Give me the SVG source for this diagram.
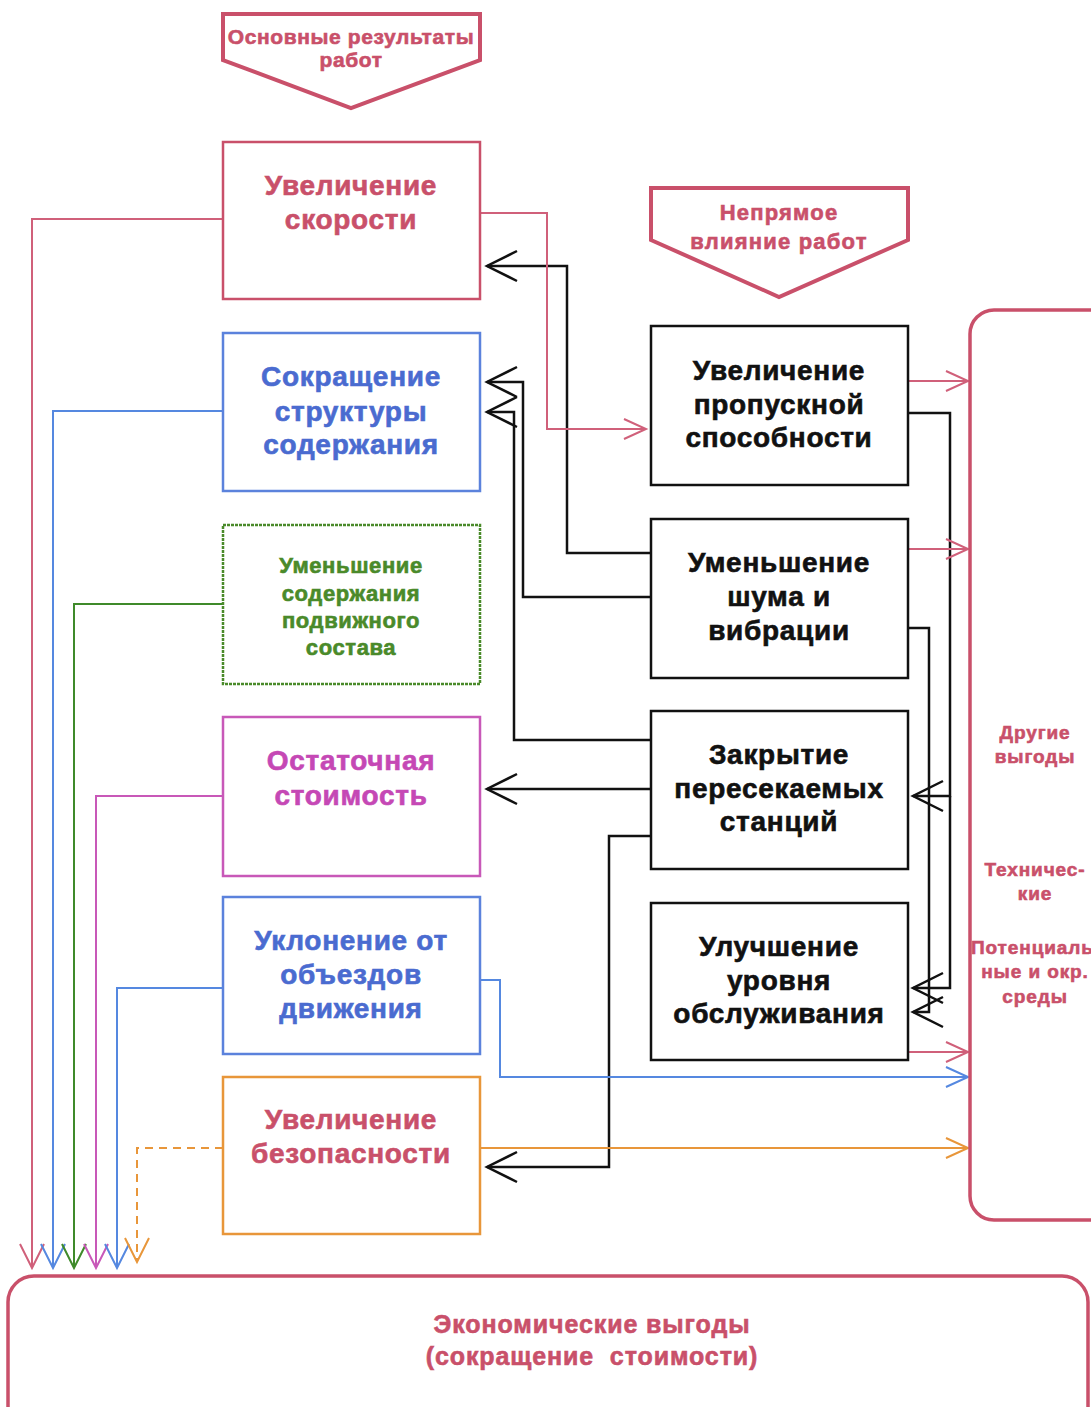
<svg xmlns="http://www.w3.org/2000/svg" width="1091" height="1407" viewBox="0 0 1091 1407">
<style>
text{font-family:"Liberation Sans",Arial,sans-serif;font-weight:bold;text-anchor:middle;stroke-width:0.6}
.box{fill:#fff;stroke-width:2.5}
.t27{font-size:28px;letter-spacing:0.7px}
.t21{font-size:22px;letter-spacing:0.6px}
.t20{font-size:21px;letter-spacing:0.6px}
.t20b{font-size:22px;letter-spacing:1.2px}
.t18{font-size:19px;letter-spacing:0.9px}
.t24{font-size:25px;letter-spacing:0.9px}
.red{fill:#c9506a;stroke:#c9506a}
.blue{fill:#4a6bd0;stroke:#4a6bd0}
.green{fill:#4a8a2a;stroke:#4a8a2a}
.mag{fill:#c548b5;stroke:#c548b5}
.blk{fill:#111;stroke:#111}
.c{fill:none}
.ck{stroke:#111;stroke-width:2.5}
.cr{stroke:#d0607a;stroke-width:2}
.cb{stroke:#5588e0;stroke-width:2}
.cg{stroke:#3f8a2a;stroke-width:2}
.cm{stroke:#c858b8;stroke-width:2}
.co{stroke:#e8963a;stroke-width:2}
</style>
<defs>
<marker id="mk" markerUnits="userSpaceOnUse" markerWidth="40" markerHeight="40" viewBox="-35 -20 40 40" refX="0" refY="0" orient="auto" overflow="visible"><path d="M-30,-15 L0,0 L-30,15" fill="none" stroke="#111" stroke-width="2.5"/></marker>
<marker id="mr" markerUnits="userSpaceOnUse" markerWidth="30" markerHeight="30" viewBox="-25 -15 30 30" refX="0" refY="0" orient="auto" overflow="visible"><path d="M-22,-10 L0,0 L-22,10" fill="none" stroke="#d0607a" stroke-width="2"/></marker>
<marker id="mb" markerUnits="userSpaceOnUse" markerWidth="30" markerHeight="30" viewBox="-25 -15 30 30" refX="0" refY="0" orient="auto" overflow="visible"><path d="M-22,-10 L0,0 L-22,10" fill="none" stroke="#5588e0" stroke-width="2"/></marker>
<marker id="mo" markerUnits="userSpaceOnUse" markerWidth="30" markerHeight="30" viewBox="-25 -15 30 30" refX="0" refY="0" orient="auto" overflow="visible"><path d="M-22,-10 L0,0 L-22,10" fill="none" stroke="#e8963a" stroke-width="2"/></marker>
<marker id="dr" markerUnits="userSpaceOnUse" markerWidth="30" markerHeight="30" viewBox="-27 -15 30 30" refX="0" refY="0" orient="auto" overflow="visible"><path d="M-24,-12 L0,0 L-24,12" fill="none" stroke="#d0607a" stroke-width="2"/></marker>
<marker id="db" markerUnits="userSpaceOnUse" markerWidth="30" markerHeight="30" viewBox="-27 -15 30 30" refX="0" refY="0" orient="auto" overflow="visible"><path d="M-24,-12 L0,0 L-24,12" fill="none" stroke="#5588e0" stroke-width="2"/></marker>
<marker id="dg" markerUnits="userSpaceOnUse" markerWidth="30" markerHeight="30" viewBox="-27 -15 30 30" refX="0" refY="0" orient="auto" overflow="visible"><path d="M-24,-12 L0,0 L-24,12" fill="none" stroke="#3f8a2a" stroke-width="2"/></marker>
<marker id="dm" markerUnits="userSpaceOnUse" markerWidth="30" markerHeight="30" viewBox="-27 -15 30 30" refX="0" refY="0" orient="auto" overflow="visible"><path d="M-24,-12 L0,0 L-24,12" fill="none" stroke="#c858b8" stroke-width="2"/></marker>
<marker id="do" markerUnits="userSpaceOnUse" markerWidth="30" markerHeight="30" viewBox="-27 -15 30 30" refX="0" refY="0" orient="auto" overflow="visible"><path d="M-24,-12 L0,0 L-24,12" fill="none" stroke="#e8963a" stroke-width="2"/></marker>
</defs>
<rect width="1091" height="1407" fill="#fff"/>

<g id="hdr-main">
<polygon points="223,14 480,14 480,60 351,108 223,60" fill="#fff" stroke="#c9506a" stroke-width="4"/>
<text class="t20 red" x="351" y="44">Основные результаты</text>
<text class="t20 red" x="351" y="67">работ</text>
</g>
<g id="hdr-indirect">
<polygon points="651,188 908,188 908,240 779,297 651,240" fill="#fff" stroke="#c9506a" stroke-width="4"/>
<text class="t20b red" x="779" y="220">Непрямое</text>
<text class="t20b red" x="779" y="249">влияние работ</text>
</g>

<g id="connectors">
<path class="c ck" d="M652,553 H567 V266 H487" marker-end="url(#mk)"/>
<path class="c ck" d="M652,597 H523 V382 H487" marker-end="url(#mk)"/>
<path class="c ck" d="M652,740 H514 V412 H487" marker-end="url(#mk)"/>
<path class="c ck" d="M652,789 H487" marker-end="url(#mk)"/>
<path class="c ck" d="M652,836 H609 V1167 H487" marker-end="url(#mk)"/>
<path class="c ck" d="M908,413 H950 V796 H913" marker-end="url(#mk)"/>
<path class="c ck" d="M950,796 V988 H913" marker-end="url(#mk)"/>
<path class="c ck" d="M908,628 H929 V1012 H913" marker-end="url(#mk)"/>
<path class="c cr" d="M480,213 H547 V429 H646" marker-end="url(#mr)"/>
<path class="c cr" d="M908,381 H968" marker-end="url(#mr)"/>
<path class="c cr" d="M908,549 H968" marker-end="url(#mr)"/>
<path class="c cr" d="M908,1052 H968" marker-end="url(#mr)"/>
<path class="c cb" d="M480,980 H500 V1077 H968" marker-end="url(#mb)"/>
<path class="c co" d="M480,1148 H968" marker-end="url(#mo)"/>
<path class="c cr" d="M223,219 H32 V1268" marker-end="url(#dr)"/>
<path class="c cb" d="M223,411 H53 V1268" marker-end="url(#db)"/>
<path class="c cg" d="M223,604 H74 V1268" marker-end="url(#dg)"/>
<path class="c cm" d="M223,796 H96 V1268" marker-end="url(#dm)"/>
<path class="c cb" d="M223,988 H117 V1268" marker-end="url(#db)"/>
<path class="c co" d="M223,1148 H137 V1262" stroke-dasharray="8,6" marker-end="url(#do)"/>
</g>

<g id="n-speed">
<rect class="box" x="223" y="142" width="257" height="157" stroke="#c9506a"/>
<text class="t27 red" x="351" y="195">Увеличение</text>
<text class="t27 red" x="351" y="229">скорости</text>
</g>
<g id="n-structure">
<rect class="box" x="223" y="333" width="257" height="158" stroke="#5b82dc"/>
<text class="t27 blue" x="351" y="386">Сокращение</text>
<text class="t27 blue" x="351" y="421">структуры</text>
<text class="t27 blue" x="351" y="454">содержания</text>
</g>
<g id="n-rolling">
<rect class="box" x="223" y="525" width="257" height="159" stroke="#4a8a2a" stroke-dasharray="3,1"/>
<text class="t21 green" x="351" y="573">Уменьшение</text>
<text class="t21 green" x="351" y="601">содержания</text>
<text class="t21 green" x="351" y="628">подвижного</text>
<text class="t21 green" x="351" y="655">состава</text>
</g>
<g id="n-residual">
<rect class="box" x="223" y="717" width="257" height="159" stroke="#c858b8"/>
<text class="t27 mag" x="351" y="770">Остаточная</text>
<text class="t27 mag" x="351" y="805">стоимость</text>
</g>
<g id="n-detour">
<rect class="box" x="223" y="897" width="257" height="157" stroke="#5b82dc"/>
<text class="t27 blue" x="351" y="950">Уклонение от</text>
<text class="t27 blue" x="351" y="984">объездов</text>
<text class="t27 blue" x="351" y="1018">движения</text>
</g>
<g id="n-safety">
<rect class="box" x="223" y="1077" width="257" height="157" stroke="#e8963a"/>
<text class="t27 red" x="351" y="1129">Увеличение</text>
<text class="t27 red" x="351" y="1163">безопасности</text>
</g>

<g id="n-capacity">
<rect class="box" x="651" y="326" width="257" height="159" stroke="#111"/>
<text class="t27 blk" x="779" y="380">Увеличение</text>
<text class="t27 blk" x="779" y="414">пропускной</text>
<text class="t27 blk" x="779" y="447">способности</text>
</g>
<g id="n-noise">
<rect class="box" x="651" y="519" width="257" height="159" stroke="#111"/>
<text class="t27 blk" x="779" y="572">Уменьшение</text>
<text class="t27 blk" x="779" y="606">шума и</text>
<text class="t27 blk" x="779" y="640">вибрации</text>
</g>
<g id="n-stations">
<rect class="box" x="651" y="711" width="257" height="158" stroke="#111"/>
<text class="t27 blk" x="779" y="764">Закрытие</text>
<text class="t27 blk" x="779" y="798">пересекаемых</text>
<text class="t27 blk" x="779" y="831">станций</text>
</g>
<g id="n-service">
<rect class="box" x="651" y="903" width="257" height="157" stroke="#111"/>
<text class="t27 blk" x="779" y="956">Улучшение</text>
<text class="t27 blk" x="779" y="990">уровня</text>
<text class="t27 blk" x="779" y="1023">обслуживания</text>
</g>

<g id="n-other">
<rect x="970" y="310" width="150" height="910" rx="24" fill="#fff" stroke="#c9506a" stroke-width="3.5"/>
<text class="t18 red" x="1035" y="739">Другие</text>
<text class="t18 red" x="1035" y="763">выгоды</text>
<text class="t18 red" x="1035" y="876">Техничес-</text>
<text class="t18 red" x="1035" y="900">кие</text>
<text class="t18 red" x="971" y="954" style="text-anchor:start">Потенциаль</text>
<text class="t18 red" x="1035" y="978">ные и окр.</text>
<text class="t18 red" x="1035" y="1003">среды</text>
</g>

<g id="n-economic">
<rect x="8" y="1276" width="1080" height="160" rx="26" fill="#fff" stroke="#c9506a" stroke-width="3.5"/>
<text class="t24 red" x="592" y="1333">Экономические выгоды</text>
<text class="t24 red" x="592" y="1365">(сокращение&#160; стоимости)</text>
</g>
</svg>
